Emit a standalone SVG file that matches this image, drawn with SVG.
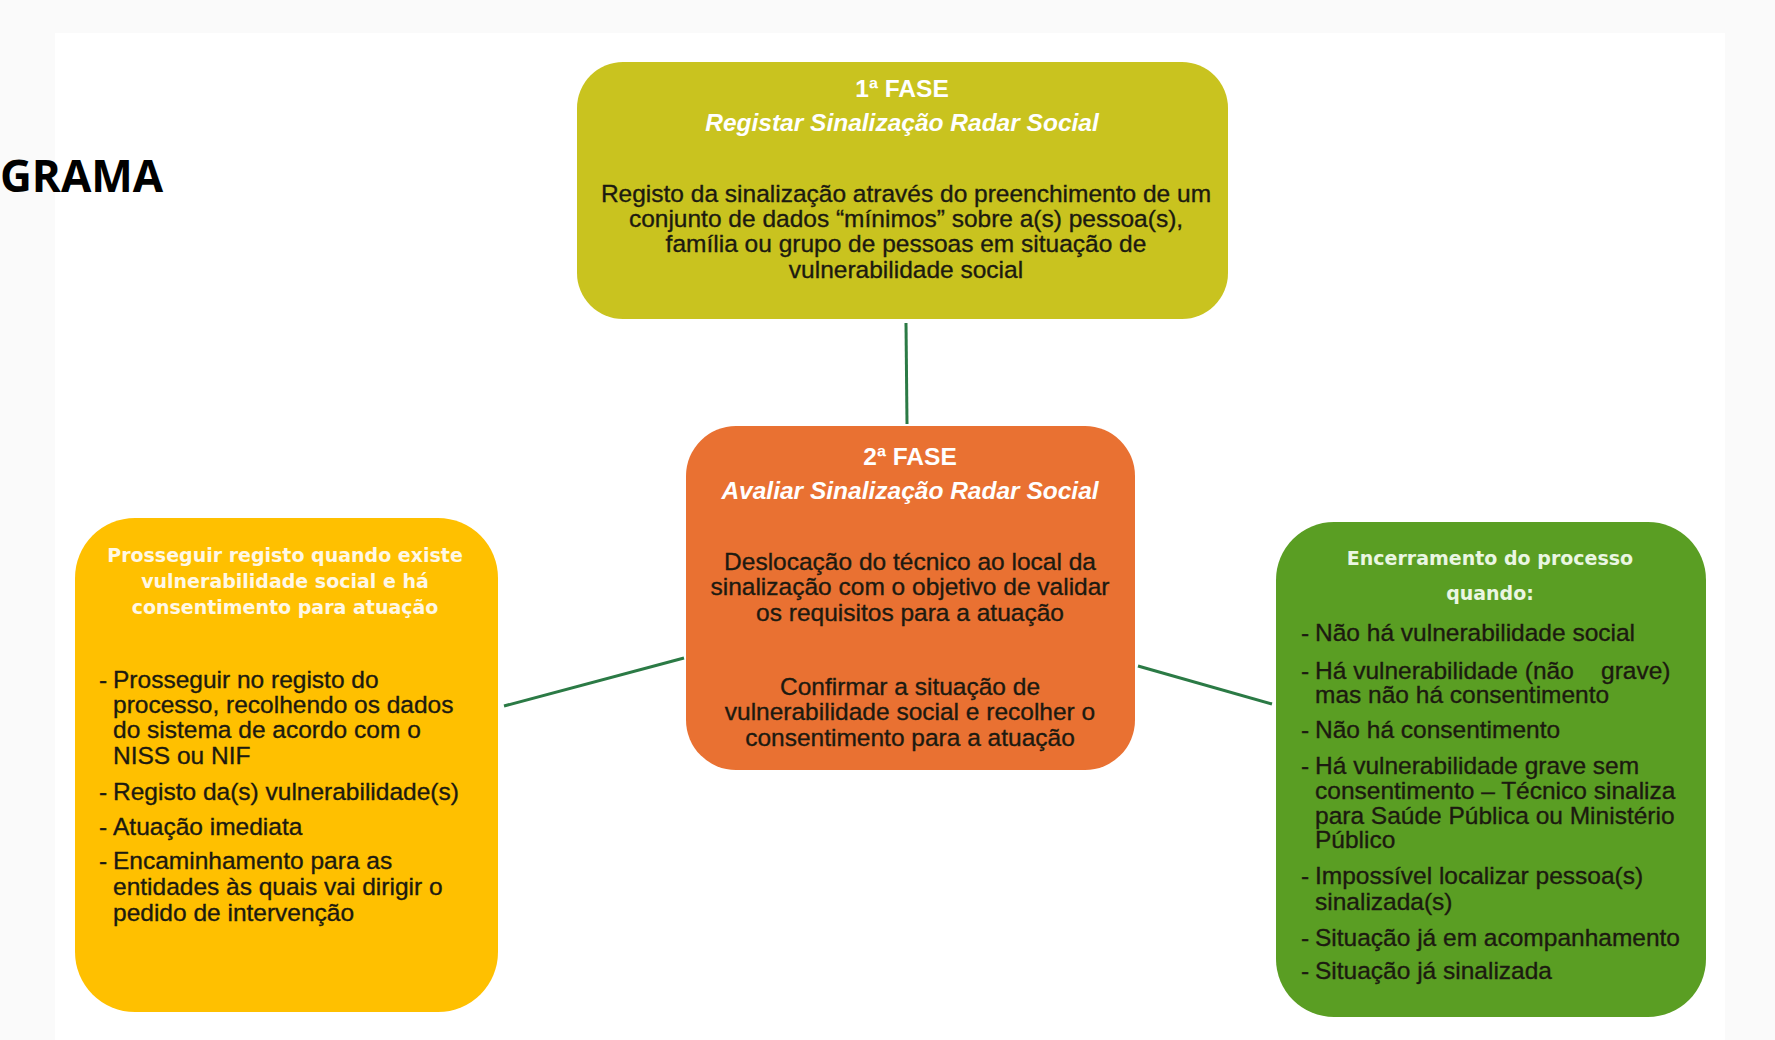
<svg xmlns="http://www.w3.org/2000/svg" width="1775" height="1040" viewBox="0 0 1775 1040">
<style>
.body{font-family:"Liberation Sans",Arial,sans-serif;font-size:24.5px;fill:#1c1a10;stroke:#1c1a10;stroke-width:0.35}
.hd{font-family:"Liberation Sans",Arial,sans-serif;font-size:24.5px;font-weight:bold;fill:#ffffff}
.hdi{font-family:"Liberation Sans",Arial,sans-serif;font-size:24.5px;font-weight:bold;font-style:italic;fill:#ffffff}
.hd2{font-family:"DejaVu Sans",Verdana,sans-serif;font-size:19px;font-weight:bold}
.c{text-anchor:middle}
.conn{stroke:#2b7a45;stroke-width:3;fill:none}
</style>
<rect x="0" y="0" width="1775" height="1040" fill="#fafafa"/>
<rect x="55" y="33" width="1670" height="1007" fill="#ffffff"/>
<text x="0" y="192" font-family="'Open Sans','Noto Sans',sans-serif" font-size="44" font-weight="bold" fill="#000">GRAMA</text>
<g id="connectors">
<line class="conn" x1="906" y1="323" x2="907" y2="424"/>
<line class="conn" x1="504" y1="706" x2="684" y2="658"/>
<line class="conn" x1="1138" y1="666" x2="1272" y2="704"/>
</g>
<g id="fase1">
<rect x="577" y="62" width="651" height="257" rx="46" fill="#c9c31f"/>
<text class="hd c" x="902" y="97">1ª FASE</text>
<text class="hdi c" x="902" y="131">Registar Sinalização Radar Social</text>
<text class="body c" x="906" y="202">Registo da sinalização através do preenchimento de um</text>
<text class="body c" x="906" y="227">conjunto de dados “mínimos” sobre a(s) pessoa(s),</text>
<text class="body c" x="906" y="252">família ou grupo de pessoas em situação de</text>
<text class="body c" x="906" y="278">vulnerabilidade social</text>
</g>
<g id="fase2">
<rect x="686" y="426" width="449" height="344" rx="50" fill="#e97132"/>
<text class="hd c" x="910" y="465">2ª FASE</text>
<text class="hdi c" x="910" y="499">Avaliar Sinalização Radar Social</text>
<text class="body c" x="910" y="570">Deslocação do técnico ao local da</text>
<text class="body c" x="910" y="595">sinalização com o objetivo de validar</text>
<text class="body c" x="910" y="621">os requisitos para a atuação</text>
<text class="body c" x="910" y="695">Confirmar a situação de</text>
<text class="body c" x="910" y="720">vulnerabilidade social e recolher o</text>
<text class="body c" x="910" y="746">consentimento para a atuação</text>
</g>
<g id="prosseguir">
<rect x="75" y="518" width="423" height="494" rx="60" fill="#ffc000"/>
<text class="hd2 c" x="285" y="562" fill="#fff8e6">Prosseguir registo quando existe</text>
<text class="hd2 c" x="285" y="588" fill="#fff8e6">vulnerabilidade social e há</text>
<text class="hd2 c" x="285" y="614" fill="#fff8e6">consentimento para atuação</text>
<g class="body">
<text x="99" y="688">-</text><text x="113" y="688">Prosseguir no registo do</text>
<text x="113" y="713">processo, recolhendo os dados</text>
<text x="113" y="738">do sistema de acordo com o</text>
<text x="113" y="764">NISS ou NIF</text>
<text x="99" y="800">-</text><text x="113" y="800">Registo da(s) vulnerabilidade(s)</text>
<text x="99" y="835">-</text><text x="113" y="835">Atuação imediata</text>
<text x="99" y="869">-</text><text x="113" y="869">Encaminhamento para as</text>
<text x="113" y="895">entidades às quais vai dirigir o</text>
<text x="113" y="921">pedido de intervenção</text>
</g>
</g>
<g id="encerramento">
<rect x="1276" y="522" width="430" height="495" rx="58" fill="#5a9e23"/>
<text class="hd2 c" x="1490" y="565" fill="#eaf6e2">Encerramento do processo</text>
<text class="hd2 c" x="1490" y="600" fill="#eaf6e2">quando:</text>
<g class="body">
<text x="1301" y="641">-</text><text x="1315" y="641">Não há vulnerabilidade social</text>
<text x="1301" y="679">-</text><text x="1315" y="679" xml:space="preserve">Há vulnerabilidade (não    grave)</text>
<text x="1315" y="703">mas não há consentimento</text>
<text x="1301" y="738">-</text><text x="1315" y="738">Não há consentimento</text>
<text x="1301" y="774">-</text><text x="1315" y="774">Há vulnerabilidade grave sem</text>
<text x="1315" y="799">consentimento – Técnico sinaliza</text>
<text x="1315" y="824">para Saúde Pública ou Ministério</text>
<text x="1315" y="848">Público</text>
<text x="1301" y="884">-</text><text x="1315" y="884">Impossível localizar pessoa(s)</text>
<text x="1315" y="910">sinalizada(s)</text>
<text x="1301" y="946">-</text><text x="1315" y="946">Situação já em acompanhamento</text>
<text x="1301" y="979">-</text><text x="1315" y="979">Situação já sinalizada</text>
</g>
</g>
</svg>
